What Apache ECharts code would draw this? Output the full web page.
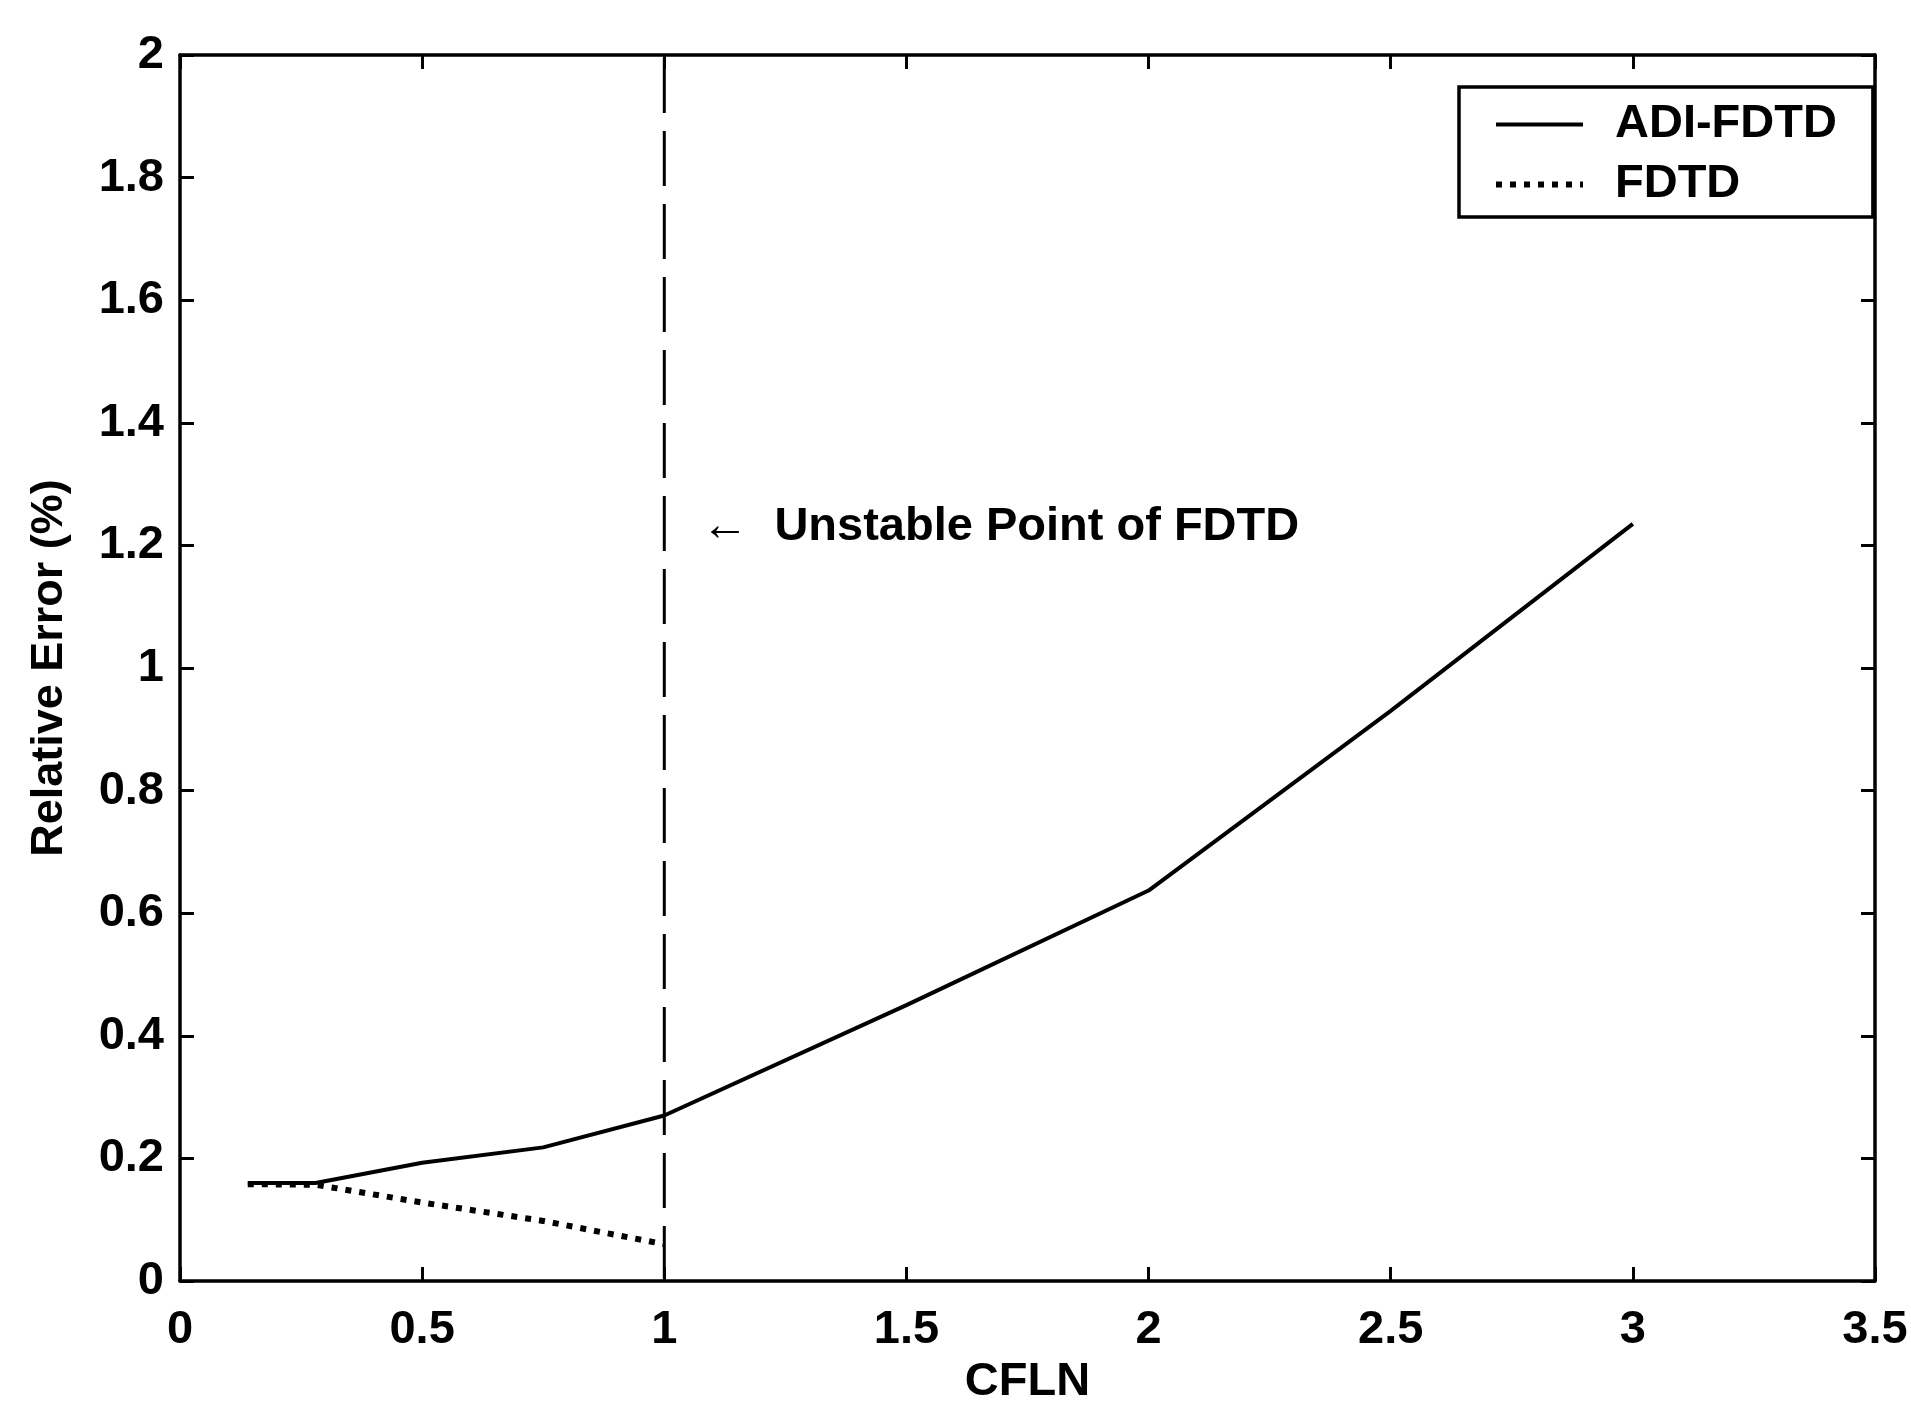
<!DOCTYPE html>
<html><head><meta charset="utf-8">
<script src="https://cdn.jsdelivr.net/npm/echarts/dist/echarts.min.js"></script>
<style>html,body{margin:0;padding:0;background:#fff}#c{width:1911px;height:1401px}</style>
</head><body><div id="c"></div>
<script>
// ---- data ----
const xTicks = [0, 0.5, 1, 1.5, 2, 2.5, 3, 3.5];
const yTicks = [0, 0.2, 0.4, 0.6, 0.8, 1, 1.2, 1.4, 1.6, 1.8, 2];
const adiName = 'ADI-FDTD';
const adiX = [0.14, 0.28, 0.5, 0.75, 1.0, 1.5, 2.0, 2.5, 3.0];
const adiY = [0.16, 0.16, 0.193, 0.218, 0.27, 0.45, 0.637, 0.93, 1.235];
const fdtdName = 'FDTD';
const fdtdX = [0.14, 0.28, 0.5, 0.75, 1.0];
const fdtdY = [0.158, 0.157, 0.128, 0.098, 0.06];
const unstableX = 1;
const annotationY = 1.23;
const annotationText = '\u2190  Unstable Point of FDTD';
const xName = 'CFLN';
const yName = 'Relative Error (%)';

const FONT = "'Liberation Sans', Arial, Helvetica, sans-serif";
const pairs = (xs, ys) => xs.map((x, i) => [x, ys[i]]);
const xMin = xTicks[0], xMax = xTicks[xTicks.length - 1], xInt = xTicks[1] - xTicks[0];
const yMin = yTicks[0], yMax = yTicks[yTicks.length - 1], yInt = yTicks[1] - yTicks[0];

const lbl = { color: '#000', fontFamily: FONT, fontWeight: 'bold', fontSize: 47 };
const axLine = { show: true, onZero: false, lineStyle: { color: '#000', width: 3.5 } };
const tick = { show: true, inside: true, length: 14, lineStyle: { color: '#000', width: 3 } };

const chart = echarts.init(document.getElementById('c'), null, { renderer: 'canvas' });
chart.setOption({
  animation: false,
  backgroundColor: '#fff',
  grid: { left: 180, right: 36, top: 55, bottom: 120, containLabel: false, outerBoundsMode: 'none' },
  legend: {
    data: [adiName, fdtdName],
    orient: 'vertical',
    left: 1459, top: 87,
    padding: [14, 36, 9, 34],
    borderColor: '#000', borderWidth: 3.5,
    backgroundColor: '#fff',
    itemWidth: 87, itemHeight: 40, itemGap: 13,
    itemStyle: { color: 'transparent', borderColor: 'transparent', borderWidth: 0, opacity: 0 },
    lineStyle: { width: 'inherit' },
    textStyle: Object.assign({}, lbl, { padding: [0, 0, 0, 27] })
  },
  xAxis: [
    { type: 'value', min: xMin, max: xMax, interval: xInt, position: 'bottom',
      name: xName, nameLocation: 'middle', nameGap: 66, nameTextStyle: lbl,
      axisLine: axLine, axisTick: tick, splitLine: { show: false },
      axisLabel: Object.assign({}, lbl, { margin: 26 }) },
    { type: 'value', min: xMin, max: xMax, interval: xInt, position: 'top',
      axisLine: axLine, axisTick: tick, splitLine: { show: false },
      axisLabel: { show: false } }
  ],
  yAxis: [
    { type: 'value', min: yMin, max: yMax, interval: yInt, position: 'left',
      name: yName, nameLocation: 'middle', nameGap: 108,
      nameTextStyle: Object.assign({}, lbl, { fontSize: 45 }),
      axisLine: axLine, axisTick: tick, splitLine: { show: false },
      axisLabel: Object.assign({}, lbl, { margin: 16 }) },
    { type: 'value', min: yMin, max: yMax, interval: yInt, position: 'right',
      axisLine: axLine, axisTick: tick, splitLine: { show: false },
      axisLabel: { show: false } }
  ],
  series: [
    { name: adiName, type: 'line', data: pairs(adiX, adiY), symbol: 'none',
      lineStyle: { color: '#000', width: 4, type: 'solid' },
      itemStyle: { color: '#000' }, z: 3 },
    { name: fdtdName, type: 'line', data: pairs(fdtdX, fdtdY), symbol: 'none',
      lineStyle: { color: '#000', width: 6, type: [6, 8] },
      itemStyle: { color: '#000' }, z: 4 },
    { name: 'unstable', type: 'line', data: [[unstableX, yMin], [unstableX, yMax]], symbol: 'none',
      lineStyle: { color: '#000', width: 3, type: [55, 18] }, z: 2,
      markPoint: {
        symbol: 'circle', symbolSize: 0,
        data: [{ coord: [unstableX, annotationY] }],
        label: Object.assign({}, lbl, { show: true, position: 'right', distance: 37,
          formatter: annotationText })
      } }
  ]
});
</script></body></html>
